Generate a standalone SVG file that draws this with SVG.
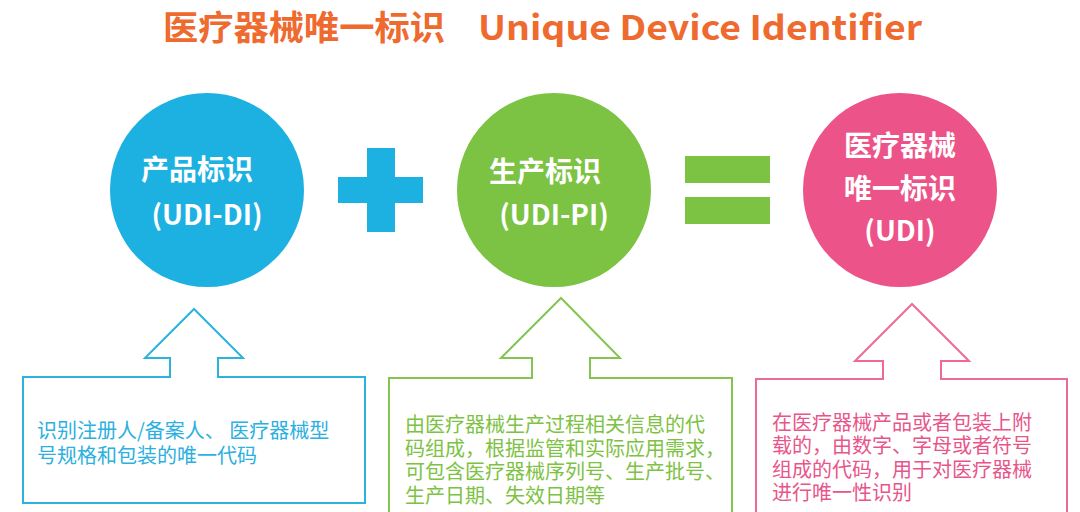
<svg xmlns="http://www.w3.org/2000/svg" width="1080" height="512" viewBox="0 0 1080 512">
<style>
.title{font-family:"Noto Sans CJK SC","Noto Sans",sans-serif;font-weight:bold;font-size:34px;fill:#EE6A2F}
.ctext{font-family:"Noto Sans CJK SC","Noto Sans",sans-serif;font-weight:bold;font-size:28px;fill:#FFFFFF;text-anchor:middle}
.desc{font-family:"Noto Sans CJK SC","Noto Sans",sans-serif;font-size:20px}
.blue{fill:#1DB1E2}
.green{fill:#7CC243}
.pink{fill:#EC5389}
.ob{fill:none;stroke-width:2}
</style>
<rect width="1080" height="512" fill="#FFFFFF"/>
<text class="title" y="40"><tspan x="163" textLength="282" lengthAdjust="spacingAndGlyphs">医疗器械唯一标识</tspan><tspan x="478" textLength="444" lengthAdjust="spacingAndGlyphs">Unique Device Identifier</tspan></text>

<g id="node-di">
<circle class="blue" cx="207" cy="190" r="97"/>
<text class="ctext" x="197" y="180">产品标识</text>
<text class="ctext" x="207" y="225">(UDI-DI)</text>
</g>
<g id="plus">
<rect class="blue" x="338" y="177" width="85" height="26"/>
<rect class="blue" x="367" y="148" width="28" height="84"/>
</g>
<g id="node-pi">
<circle class="green" cx="554" cy="190" r="97"/>
<text class="ctext" x="545" y="182">生产标识</text>
<text class="ctext" x="554" y="225">(UDI-PI)</text>
</g>
<g id="equals">
<rect class="green" x="685" y="156" width="85" height="27"/>
<rect class="green" x="685" y="197" width="85" height="27"/>
</g>
<g id="node-udi">
<circle class="pink" cx="900" cy="190" r="97"/>
<text class="ctext" x="900" y="156">医疗器械</text>
<text class="ctext" x="900" y="199">唯一标识</text>
<text class="ctext" x="900" y="241">(UDI)</text>
</g>

<g id="connectors">
<path class="ob" stroke="#2BB3E0" d="M170 377 V358 H145 L194 309 L243 358 H218 V377 H365 V503 H23 V377 Z"/>
<path class="ob" stroke="#86C452" d="M532 378 V358 H501 L561 298 L620 358 H590 V378 H732 V520 H389 V378 Z"/>
<path class="ob" stroke="#EC6A95" d="M883 379 V361 H855 L912 304 L969 361 H941 V379 H1067 V520 H756 V379 Z"/>
</g>

<g id="desc-di">
<text class="desc" fill="#2BB0E0" x="37" y="438">识别注册人/备案人、 医疗器械型</text>
<text class="desc" fill="#2BB0E0" x="37" y="463">号规格和包装的唯一代码</text>
</g>
<g id="desc-pi">
<text class="desc" fill="#7DC242" x="405" y="432">由医疗器械生产过程相关信息的代</text>
<text class="desc" fill="#7DC242" x="405" y="455.5">码组成，根据监管和实际应用需求，</text>
<text class="desc" fill="#7DC242" x="405" y="479">可包含医疗器械序列号、生产批号、</text>
<text class="desc" fill="#7DC242" x="405" y="502.5">生产日期、失效日期等</text>
</g>
<g id="desc-udi">
<text class="desc" fill="#E8558A" x="772" y="430">在医疗器械产品或者包装上附</text>
<text class="desc" fill="#E8558A" x="772" y="453">载的，由数字、字母或者符号</text>
<text class="desc" fill="#E8558A" x="772" y="477">组成的代码，用于对医疗器械</text>
<text class="desc" fill="#E8558A" x="772" y="500">进行唯一性识别</text>
</g>
</svg>
